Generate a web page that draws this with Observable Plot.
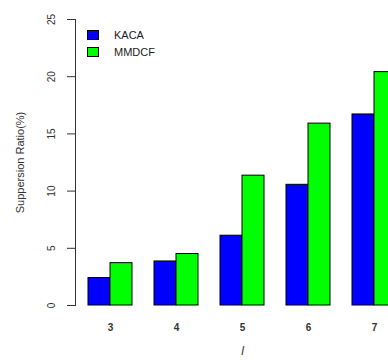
<!DOCTYPE html>
<html>
<head>
<meta charset="utf-8">
<script src="https://cdn.jsdelivr.net/npm/d3@7"></script>
<script src="https://cdn.jsdelivr.net/npm/@observablehq/plot@0.6"></script>
<style>
  html, body { margin: 0; padding: 0; overflow: hidden; background: #fff; width: 388px; height: 360px; }
  #wrap { position: relative; width: 388px; height: 360px; overflow: hidden; font-family: "Liberation Sans", Arial, sans-serif; }
  #wrap svg { max-width: none !important; position: absolute; left: 0; top: 0; }
  .leg { position: absolute; font-size: 11px; color: #222; display: flex; align-items: center; }
  .sw { width: 10px; height: 8px; border: 1px solid #000; margin-right: 15px; }
  [aria-label="x-axis label"] text { font-style: italic; font-size: 12px; }
  [aria-label="x-axis tick label"] text { font-weight: bold; }
  [aria-label="y-axis label"] text { font-size: 11px; }
</style>
</head>
<body>
<div id="wrap"></div>
<script>
const groups = ["3", "4", "5", "6", "7"];
const seriesNames = ["KACA", "MMDCF"];
const kacaValues = [2.4, 3.85, 6.1, 10.55, 16.7];
const mmdcfValues = [3.7, 4.5, 11.35, 15.9, 20.4];
const yTicks = [0, 5, 10, 15, 20, 25];
const colors = ["#0000ff", "#00ff00"];

const table = [];
groups.forEach((g, i) => {
  table.push({group: g, series: seriesNames[0], value: kacaValues[i]});
  table.push({group: g, series: seriesNames[1], value: mmdcfValues[i]});
});

const chart = Plot.plot({
  width: 410,
  height: 360,
  marginLeft: 75,
  marginRight: 1,
  marginTop: 19,
  marginBottom: 55,
  style: {fontFamily: "Liberation Sans, Arial, sans-serif", color: "#333", background: "#fff", maxWidth: "none"},
  x: {domain: groups, paddingInner: 0.338, paddingOuter: 0.18, tickSize: 0, label: "l", labelAnchor: "center", labelArrow: false, tickPadding: 18, labelOffset: 49, fontSize: 10},
  y: {domain: [0, 25], ticks: yTicks, line: true, tickSize: 8, tickRotate: -90, label: "Suppersion Ratio(%)", labelAnchor: "center", labelArrow: false, labelOffset: 59, tickPadding: 11, fontSize: 10},
  color: {domain: seriesNames, range: colors},
  marks: [
    Plot.barY(table.filter(d => d.series === seriesNames[0]), {x: "group", y: "value", fill: "series", stroke: "#000", strokeWidth: 1, insetRight: 22}),
    Plot.barY(table.filter(d => d.series === seriesNames[1]), {x: "group", y: "value", fill: "series", stroke: "#000", strokeWidth: 1, insetLeft: 22})
  ]
});
document.getElementById("wrap").appendChild(chart);

// nudge rotated y tick labels slightly further from the axis, as in the original
d3.select(chart).selectAll('g[aria-label="y-axis tick label"]').each(function () {
  const t = this.getAttribute("transform") || "";
  this.setAttribute("transform", ("translate(-2,0) " + t).trim());
});

const wrap = document.getElementById("wrap");
seriesNames.forEach((name, i) => {
  const d = document.createElement("div");
  d.className = "leg";
  d.style.left = "87px";
  d.style.top = (29 + i * 17) + "px";
  const sw = document.createElement("span");
  sw.className = "sw";
  sw.style.background = colors[i];
  d.appendChild(sw);
  d.appendChild(document.createTextNode(name));
  wrap.appendChild(d);
});
</script>
</body>
</html>
